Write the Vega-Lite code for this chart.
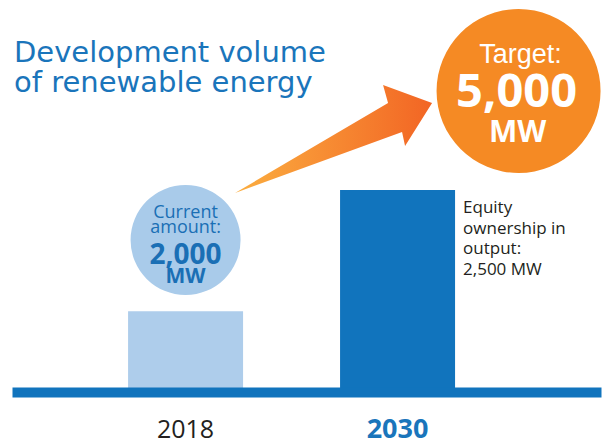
{
  "$schema": "https://vega.github.io/schema/vega-lite/v6.json",
  "width": 589,
  "height": 392,
  "autosize": {"type": "none"},
  "padding": {"left": 12, "top": 0, "right": 7, "bottom": 47},
  "background": "white",
  "config": {"view": {"stroke": null}},
  "title": {
    "text": ["Development volume", "of renewable energy"],
    "anchor": "start",
    "frame": "group",
    "offset": -121,
    "dx": 2,
    "font": "DejaVu Sans",
    "fontWeight": "normal",
    "fontSize": 29,
    "color": "#1a75bb",
    "lineHeight": 30,
    "baseline": "alphabetic"
  },
  "data": {"values": [
    {"year": "2018", "mw": 2000},
    {"year": "2030", "mw": 5000}
  ]},
  "encoding": {
    "x": {
      "field": "year",
      "type": "nominal",
      "scale": {"domain": ["2018", "2030"], "paddingInner": 0.4575, "paddingOuter": 0.618, "align": 0.443},
      "axis": {
        "title": null,
        "labelAngle": 0,
        "domain": true,
        "domainColor": "#1174bd",
        "domainWidth": 10,
        "domainCap": "butt",
        "ticks": false,
        "tickSize": 0,
        "grid": false,
        "zindex": 1,
        "labelPadding": 45,
        "labelBaseline": "alphabetic",
        "labelFont": "Open Sans",
        "labelFontSize": {"condition": {"test": "datum.value === '2030'", "value": 27}, "value": 25},
        "labelFontWeight": {"condition": {"test": "datum.value === '2030'", "value": "bold"}, "value": "normal"},
        "labelColor": {"condition": {"test": "datum.value === '2030'", "value": "#1a75bb"}, "value": "#231f20"}
      }
    }
  },
  "layer": [
    {
      "mark": {"type": "bar"},
      "encoding": {
        "y": {"field": "mw", "type": "quantitative", "scale": {"domain": [0, 9703], "nice": false, "zero": false}, "axis": null},
        "color": {"field": "year", "type": "nominal", "scale": {"domain": ["2018", "2030"], "range": ["#aecdeb", "#1174bd"]}, "legend": null}
      }
    },
    {
      "transform": [{"filter": "datum.year === '2030'"}],
      "mark": {
        "type": "point",
        "shape": "M-0.985,0.54L0.545,-0.36L0.495,-0.54L0.985,-0.36L0.715,0.07L0.685,-0.07Z",
        "size": 40000,
        "filled": true,
        "opacity": 1,
        "strokeWidth": 0,
        "xOffset": -64,
        "fill": {"gradient": "linear", "x1": 0, "y1": 0.5, "x2": 1, "y2": 0.5, "stops": [{"offset": 0, "color": "#fbae40"}, {"offset": 1, "color": "#f26524"}]}
      },
      "encoding": {"y": {"datum": 6262, "type": "quantitative"}}
    },
    {
      "transform": [{"filter": "datum.year === '2018'"}],
      "mark": {"type": "point", "shape": "circle", "size": 12100, "filled": true, "opacity": 1, "fill": "#a9cbea", "strokeWidth": 0},
      "encoding": {"y": {"datum": 3762, "type": "quantitative"}}
    },
    {
      "transform": [{"filter": "datum.year === '2018'"}],
      "mark": {"type": "text", "font": "Open Sans", "fontSize": 18, "color": "#1a6fb5", "dy": -22, "baseline": "alphabetic"},
      "encoding": {"y": {"datum": 3762, "type": "quantitative"}, "text": {"value": "Current"}}
    },
    {
      "transform": [{"filter": "datum.year === '2018'"}],
      "mark": {"type": "text", "font": "Open Sans", "fontSize": 18, "color": "#1a6fb5", "dy": -7, "baseline": "alphabetic"},
      "encoding": {"y": {"datum": 3762, "type": "quantitative"}, "text": {"value": "amount:"}}
    },
    {
      "transform": [{"filter": "datum.year === '2018'"}],
      "mark": {"type": "text", "font": "Open Sans", "fontSize": 28, "fontWeight": "bold", "color": "#1a6fb5", "dy": 24, "baseline": "alphabetic"},
      "encoding": {"y": {"datum": 3762, "type": "quantitative"}, "text": {"field": "mw", "type": "quantitative", "format": ","}}
    },
    {
      "transform": [{"filter": "datum.year === '2018'"}],
      "mark": {"type": "text", "font": "Open Sans", "fontSize": 21, "fontWeight": "bold", "color": "#1a6fb5", "dy": 43, "baseline": "alphabetic"},
      "encoding": {"y": {"datum": 3762, "type": "quantitative"}, "text": {"value": "MW"}}
    },
    {
      "transform": [{"filter": "datum.year === '2030'"}],
      "mark": {"type": "point", "shape": "circle", "size": 26896, "filled": true, "opacity": 1, "fill": "#f58a24", "strokeWidth": 0, "xOffset": 121},
      "encoding": {"y": {"datum": 7450, "type": "quantitative"}}
    },
    {
      "transform": [{"filter": "datum.year === '2030'"}],
      "mark": {"type": "text", "font": "Liberation Sans", "fontSize": 27, "color": "white", "dx": 123, "dy": -28, "baseline": "alphabetic"},
      "encoding": {"y": {"datum": 7450, "type": "quantitative"}, "text": {"value": "Target:"}}
    },
    {
      "transform": [{"filter": "datum.year === '2030'"}],
      "mark": {"type": "text", "font": "Open Sans", "fontSize": 47, "fontWeight": "bold", "color": "white", "dx": 119, "dy": 16, "baseline": "alphabetic"},
      "encoding": {"y": {"datum": 7450, "type": "quantitative"}, "text": {"field": "mw", "type": "quantitative", "format": ","}}
    },
    {
      "transform": [{"filter": "datum.year === '2030'"}],
      "mark": {"type": "text", "font": "Open Sans", "fontSize": 30, "fontWeight": "bold", "color": "white", "dx": 120, "dy": 51, "baseline": "alphabetic"},
      "encoding": {"y": {"datum": 7450, "type": "quantitative"}, "text": {"value": "MW"}}
    },
    {
      "transform": [{"filter": "datum.year === '2030'"}],
      "mark": {"type": "text", "font": "Open Sans", "fontSize": 17, "color": "#231f20", "align": "left", "dx": 65.5, "dy": 23, "baseline": "alphabetic", "lineHeight": 20.7},
      "encoding": {"y": {"datum": 5000, "type": "quantitative"}, "text": {"value": ["Equity", "ownership in", "output:", "2,500 MW"]}}
    }
  ]
}
